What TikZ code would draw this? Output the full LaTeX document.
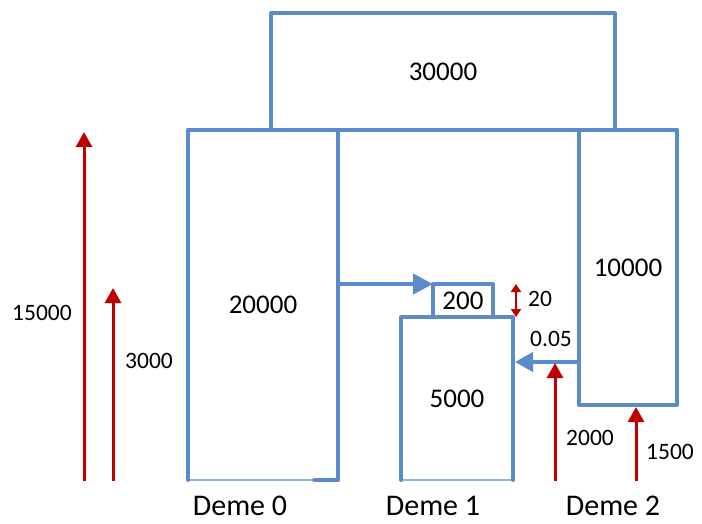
\documentclass[tikz,border=0pt]{standalone}
\usepackage{fontspec}
\setmainfont{Carlito}
\usetikzlibrary{arrows.meta}
\definecolor{boxblue}{RGB}{91,139,203}
\definecolor{arrred}{RGB}{192,0,0}
\begin{document}
\begin{tikzpicture}[x=1pt,y=-1pt,
  boxline/.style={draw=boxblue,line width=4pt,line join=round,line cap=round},
  baseedge/.style={draw=boxblue!65,line width=1.5pt},
  poparrow/.style={draw=arrred,line width=3pt,-{Triangle[width=16pt,length=15pt]}},
  migarrow/.style={draw=boxblue,line width=4pt,-{Triangle[width=20pt,length=20pt]}},
  region/.style={inner sep=0pt,outer sep=0pt},
  big/.style={font=\fontsize{27}{30}\selectfont},
  small/.style={font=\fontsize{23.5}{26}\selectfont},
  deme/.style={font=\fontsize{30}{32}\selectfont,inner sep=0pt}]

\useasboundingbox (0,0) rectangle (702,524);

% population boxes
\node[region,big,minimum width=344pt,minimum height=117pt] (top) at (443,71.5) {30000};
\node[region,big,minimum width=150pt,minimum height=350pt] (deme0) at (263,305) {20000};
\node[region,big,minimum width=98pt,minimum height=275pt] (deme2) at (628,267.5) {10000};
\node[region,big,minimum width=60pt,minimum height=33pt] (b200) at (463,300.5) {200};
\node[region,big,minimum width=112pt,minimum height=163pt] (deme1) at (457,398.5) {5000};

\draw[boxline] (top.south west) |- (top.north east) -- (top.south east);
\draw[boxline] (deme0.north west) -- (deme2.north east);
\draw[baseedge] (deme0.south west) -- (deme0.south east);
\draw[boxline] (deme0.south west) -- (deme0.north west);
\draw[boxline] (deme0.north east) -- (deme0.south east) -- ++(-24,0);
\draw[boxline] (deme2.north west) |- (deme2.south east) -- (deme2.north east);
\draw[boxline] (b200.south west) |- (b200.north east) -- (b200.south east);
\draw[baseedge] (deme1.south west) -- (deme1.south east);
\draw[boxline] (deme1.south west) |- (deme1.north east) -- (deme1.south east);

% migration arrows
\draw[migarrow] (deme0.east |- b200.north west) -- (b200.north west);
\coordinate (mig2) at (0,362);
\draw[migarrow,-{Triangle[width=19pt,length=18pt]}] (deme2.west |- mig2) -- ([xshift=2pt]deme1.east |- mig2);
\node[small] (lmig) at (551,339) {0.05};

% duration of bottleneck
\draw[draw=arrred,line width=2.5pt,{Triangle[width=10pt,length=8pt]}-{Triangle[width=10pt,length=8pt]}]
  ([xshift=3pt]deme1.north east |- b200.north) -- ([xshift=3pt]deme1.north east);
\node[small] (ldur) at (540,299) {20};

% time arrows
\coordinate (g0) at (84,481);  \coordinate (g0t) at (84,132);
\coordinate (g1) at (113,481); \coordinate (g1t) at (113,288);
\coordinate (g2) at (555,481); \coordinate (g2t) at (555,363);
\coordinate (g3) at (636,481);
\draw[poparrow] (g0) -- (g0t);
\draw[poparrow] (g1) -- (g1t);
\draw[poparrow] (g2) -- (g2t);
\draw[poparrow,shorten >=2pt] (g3) -- (g3 |- deme2.south);
\node[small] (l15000) at (42,313) {15000};
\node[small] (l3000) at (149,361) {3000};
\node[small] (l2000) at (590,438) {2000};
\node[small] (l1500) at (670,452) {1500};

% deme labels
\node[deme] (n0) at (240,506) {Deme 0};
\node[deme] (n1) at (433,506) {Deme 1};
\node[deme] (n2) at (613,506) {Deme 2};
\end{tikzpicture}
\end{document}
